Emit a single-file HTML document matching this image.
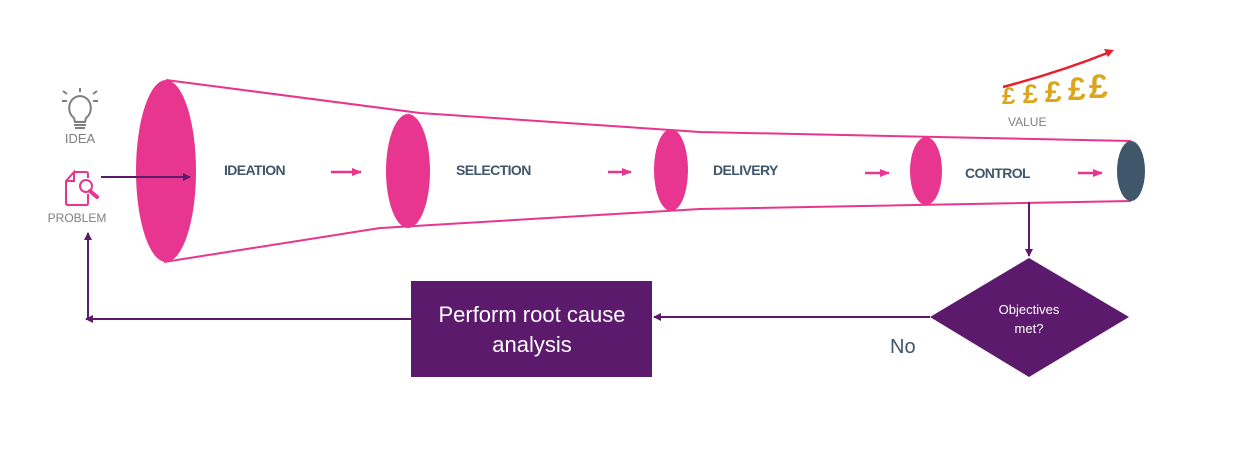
<!DOCTYPE html>
<html><head><meta charset="utf-8"><style>
html,body{margin:0;padding:0;background:#fff;}
svg{display:block;font-family:"Liberation Sans",sans-serif;}
</style></head><body>
<svg width="1244" height="475" viewBox="0 0 1244 475" xmlns="http://www.w3.org/2000/svg">
<defs>
<marker id="ap" markerWidth="8" markerHeight="8" refX="7" refY="4" orient="auto" markerUnits="userSpaceOnUse"><path d="M0,0 L8,4 L0,8 Z" fill="#5b1a6b"/></marker>
<marker id="ak" markerWidth="10" markerHeight="8" refX="9" refY="4" orient="auto" markerUnits="userSpaceOnUse"><path d="M0,0 L10,4 L0,8 Z" fill="#e8358f"/></marker>
</defs>
<polyline points="166,80 420,113 700,132 1131,141" fill="none" stroke="#e8358f" stroke-width="2"/>
<polyline points="164,262 380,228 700,209 1131,201" fill="none" stroke="#e8358f" stroke-width="2"/>
<ellipse cx="166" cy="171" rx="30" ry="91" fill="#e8358f"/>
<ellipse cx="408" cy="171" rx="22" ry="57" fill="#e8358f"/>
<ellipse cx="671" cy="170" rx="17" ry="41" fill="#e8358f"/>
<ellipse cx="926" cy="171" rx="16" ry="34" fill="#e8358f"/>
<ellipse cx="1131" cy="171" rx="14" ry="30" fill="#3f566b"/>
<g font-size="14" font-weight="bold" fill="#3f566b" letter-spacing="-0.6">
<text x="224" y="175">IDEATION</text>
<text x="456" y="175">SELECTION</text>
<text x="713" y="175">DELIVERY</text>
<text x="965" y="178">CONTROL</text>
</g>
<g stroke="#e8358f" stroke-width="2.5">
<line x1="331" y1="172" x2="361" y2="172" marker-end="url(#ak)"/>
<line x1="608" y1="172" x2="631" y2="172" marker-end="url(#ak)"/>
<line x1="865" y1="173" x2="889" y2="173" marker-end="url(#ak)"/>
<line x1="1078" y1="173" x2="1102" y2="173" marker-end="url(#ak)"/>
</g>
<g stroke="#7f7f7f" stroke-width="2" fill="none">
<path d="M74,118 C66,112 68,97 80,96 C92,97 94,112 86,118 L85,122 L75,122 Z"/>
<line x1="74" y1="125" x2="86" y2="125"/><line x1="75" y1="128" x2="85" y2="128"/>
<line x1="80" y1="88" x2="80" y2="92"/><line x1="62" y1="101" x2="67" y2="101"/><line x1="93" y1="101" x2="98" y2="101"/>
<line x1="63" y1="91" x2="67" y2="94"/><line x1="97" y1="91" x2="93" y2="94"/>
</g>
<text x="80" y="143" font-size="13" fill="#7f7f7f" text-anchor="middle">IDEA</text>
<g stroke="#e8358f" stroke-width="2" fill="none">
<path d="M74,172 L86,172 Q88,172 88,174 L88,178 M88,194 L88,203 Q88,205 86,205 L68,205 Q66,205 66,203 L66,181 L74,172 L74,181 L66,181"/>
<circle cx="86" cy="186" r="6"/>
</g>
<line x1="90" y1="191" x2="97" y2="197" stroke="#e8358f" stroke-width="4" stroke-linecap="round"/>
<text x="77" y="222" font-size="12" fill="#7f7f7f" text-anchor="middle">PROBLEM</text>
<line x1="101" y1="177" x2="190" y2="177" stroke="#5b1a6b" stroke-width="2" marker-end="url(#ap)"/>
<path d="M1003,87 Q1060,72 1110,52" fill="none" stroke="#e8202a" stroke-width="2.5"/>
<path d="M1114,50 L1104,49 L1108,57 Z" fill="#e8202a"/>
<g font-family="Liberation Sans,sans-serif" font-weight="bold" fill="#dba51c">
<text x="1002" y="104" font-size="24">£</text><text x="1023" y="103" font-size="27">£</text><text x="1045" y="102" font-size="30">£</text><text x="1068" y="100" font-size="32">£</text><text x="1089" y="98" font-size="34">£</text>
</g>
<text x="1008" y="126" font-size="12" fill="#7f7f7f">VALUE</text>
<line x1="1029" y1="202" x2="1029" y2="256" stroke="#5b1a6b" stroke-width="2" marker-end="url(#ap)"/>
<polygon points="1029,258 1129,317 1029,377 930,317" fill="#5b1a6b"/>
<text x="1029" y="314" font-size="13" fill="#fff" text-anchor="middle">Objectives</text>
<text x="1029" y="333" font-size="13" fill="#fff" text-anchor="middle">met?</text>
<line x1="930" y1="317" x2="654" y2="317" stroke="#5b1a6b" stroke-width="2" marker-end="url(#ap)"/>
<text x="890" y="353" font-size="20" fill="#3f566b">No</text>
<rect x="411" y="281" width="241" height="96" fill="#5b1a6b"/>
<text x="532" y="322" font-size="22" fill="#fff" text-anchor="middle">Perform root cause</text>
<text x="532" y="352" font-size="22" fill="#fff" text-anchor="middle">analysis</text>
<line x1="411" y1="319" x2="86" y2="319" stroke="#5b1a6b" stroke-width="2" marker-end="url(#ap)"/>
<line x1="88" y1="320" x2="88" y2="233" stroke="#5b1a6b" stroke-width="2" marker-end="url(#ap)"/>
</svg>
</body></html>
